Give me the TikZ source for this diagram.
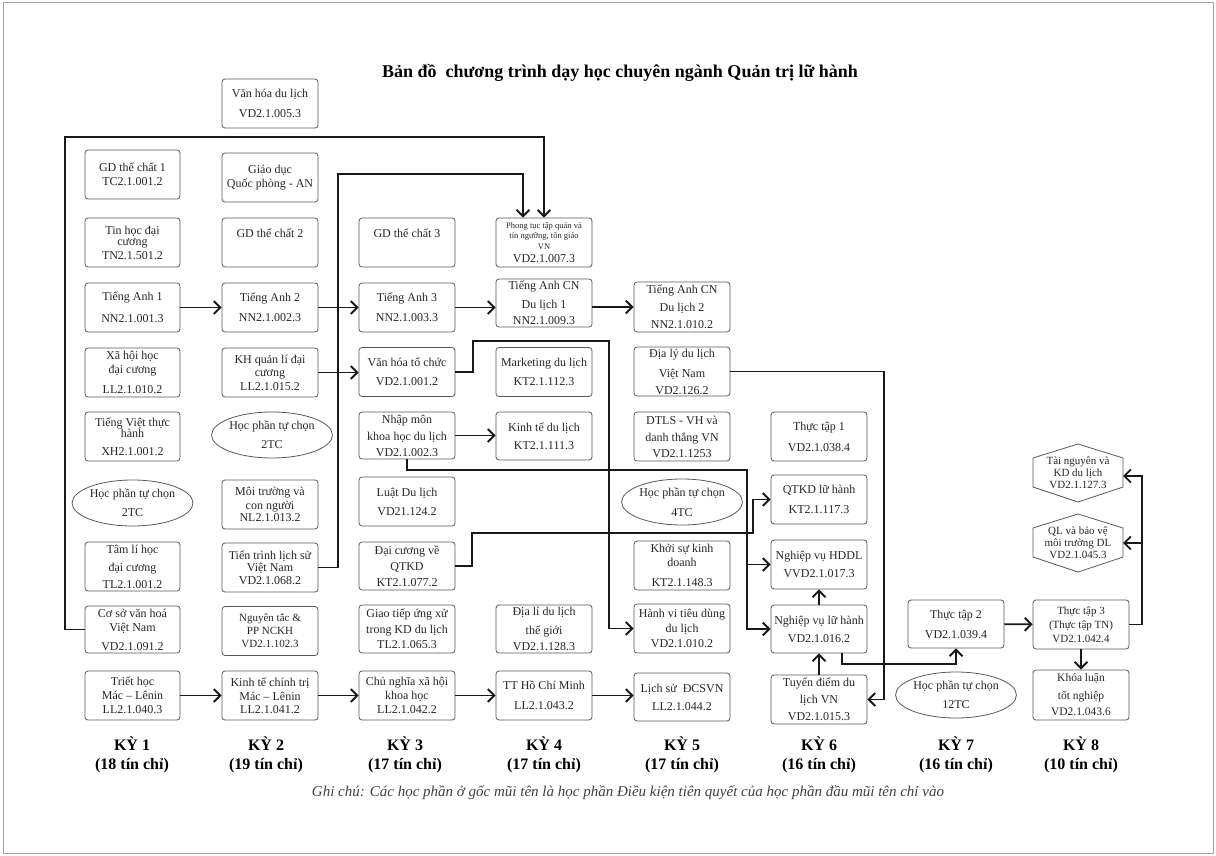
\documentclass[tikz,border=0pt]{standalone}
\usepackage{fontspec}
\setmainfont{Liberation Serif}
\usetikzlibrary{arrows.meta,shapes.geometric,calc}
\begin{document}
\begin{tikzpicture}[x=1pt,y=-1pt,
 box/.style={draw=black!65, line width=0.8pt, rounded corners=3pt, minimum width=96pt, minimum height=49pt, inner sep=1pt, align=center, text=black!85, font=\fontsize{12}{14}\selectfont},
 oval/.style={ellipse, draw=black!65, line width=0.8pt, minimum width=114pt, minimum height=46pt, inner sep=0pt, align=center, text=black!85, font=\fontsize{12}{14}\selectfont},
 hexnode/.style={minimum width=90pt, minimum height=58pt, inner sep=0pt, align=center, text=black!85, font=\fontsize{11}{12}\selectfont},
 hexline/.style={draw=black!65, line width=0.8pt},
 conn/.style={draw=black!90, line width=1.9pt, -{Straight Barb[length=6.5pt,width=13pt]}},
 ky/.style={font=\bfseries\fontsize{16}{19}\selectfont, align=center}]
\useasboundingbox (0,0) rectangle (1216,856);
\draw[black!35, line width=1pt] (3,3) rectangle (1213,853);

\node[font=\bfseries\fontsize{18}{21}\selectfont] (title) at (620,73) {Bản đồ~~chương trình dạy học chuyên ngành Quản trị lữ hành};

% column 1
\node[box, minimum width=95pt] (c1a) at (132.5,174.5) {GD thể chất 1\\TC2.1.001.2};
\node[box, minimum width=95pt] (c1b) at (132.5,242.5) {Tin học đại\\[-3pt]cương\\TN2.1.501.2};
\node[box, minimum width=95pt] (c1c) at (132.5,307.5) {Tiếng Anh 1\\[8pt]NN2.1.001.3};
\node[box, minimum width=95pt] (c1d) at (132.5,372.5) {Xã hội học\\đại cương\\[6pt]LL2.1.010.2};
\node[box, minimum width=95pt] (c1e) at (132.5,436.5) {Tiếng Việt thực\\[-3pt]hành\\[4pt]XH2.1.001.2};
\node[oval] (c1f) at (132.5,503) {Học phần tự chọn\\[5pt]2TC};
\node[box, minimum width=95pt] (c1g) at (132.5,566.5) {Tâm lí học\\[4pt]đại cương\\[3pt]TL2.1.001.2};
\node[box, minimum width=95pt, minimum height=47pt] (c1h) at (132.5,629.5) {Cơ sở văn hoá\\Việt Nam\\[5pt]VD2.1.091.2};
\node[box, minimum width=95pt] (c1i) at (132.5,695.5) {Triết học\\Mác – Lênin\\LL2.1.040.3};

% column 2
\node[box] (c2a) at (270,103.5) {Văn hóa du lịch\\[6pt]VD2.1.005.3};
\node[box] (c2b) at (270,177.5) {Giáo dục\\Quốc phòng - AN};
\node[box] (c2c) at (270,242.5) {GD thể chất 2\\[4pt]\mbox{}};
\node[box] (c2d) at (270,307.5) {Tiếng Anh 2\\[6pt]NN2.1.002.3};
\node[box] (c2e) at (270,372.5) {KH quản lí đại\\[-1pt]cương\\LL2.1.015.2};
\node[oval] (c2f) at (272,435) {Học phần tự chọn\\[5pt]2TC};
\node[box] (c2g) at (270,504.5) {Môi trường và\\con người\\[-2pt]NL2.1.013.2};
\node[box] (c2h) at (270,567.5) {Tiến trình lịch sử\\[-2pt]Việt Nam\\[-1pt]VD2.1.068.2};
\node[box, font=\fontsize{11}{13}\selectfont] (c2i) at (270,631) {Nguyên tắc \&\\PP NCKH\\VD2.1.102.3};
\node[box] (c2j) at (270,695.5) {Kinh tế chính trị\\Mác – Lênin\\[-1pt]LL2.1.041.2};

% column 3
\node[box] (c3a) at (407,242.5) {GD thể chất 3\\[4pt]\mbox{}};
\node[box] (c3b) at (407,307.5) {Tiếng Anh 3\\[6pt]NN2.1.003.3};
\node[box] (c3c) at (407,372) {Văn hóa tổ chức\\[5pt]VD2.1.001.2};
\node[box, minimum height=47pt] (c3d) at (407,435.5) {Nhập môn\\[3pt]khoa học du lịch\\[2pt]VD2.1.002.3};
\node[box] (c3e) at (407,501.5) {Luật Du lịch\\[5pt]VD21.124.2};
\node[box, minimum height=48pt] (c3f) at (407,566) {Đại cương về\\[2pt]QTKD\\[2pt]KT2.1.077.2};
\node[box, minimum height=48pt] (c3g) at (407,629) {Giao tiếp ứng xử\\[2pt]trong KD du lịch\\[1pt]TL2.1.065.3};
\node[box] (c3h) at (407,695.5) {Chủ nghĩa xã hội\\khoa học\\LL2.1.042.2};

% column 4
\node[box] (c4a) at (544,242.5) {\begin{minipage}{94pt}\centering\fontsize{8.5}{10.5}\selectfont Phong tục tập quán và\\tín ngưỡng, tôn giáo\\VN\par\fontsize{12}{13}\selectfont VD2.1.007.3\end{minipage}};
\node[box, minimum height=48pt] (c4b) at (544,303) {Tiếng Anh CN\\[5pt]Du lịch 1\\[2pt]NN2.1.009.3};
\node[box] (c4c) at (544,372) {Marketing du lịch\\[5pt]KT2.1.112.3};
\node[box, minimum height=48pt] (c4d) at (544,436) {Kinh tế du lịch\\[4pt]KT2.1.111.3};
\node[box, minimum height=48pt] (c4e) at (544,629) {Địa lí du lịch\\[5pt]thế giới\\[2pt]VD2.1.128.3};
\node[box] (c4f) at (544,695.5) {TT Hồ Chí Minh\\[6pt]LL2.1.043.2};

% column 5
\node[box, minimum height=50pt] (c5a) at (682,307) {Tiếng Anh CN\\[4pt]Du lịch 2\\[3pt]NN2.1.010.2};
\node[box] (c5b) at (682,371.5) {Địa lý du lịch\\[6pt]Việt Nam\\[3pt]VD2.126.2};
\node[box] (c5c) at (682,436.5) {DTLS - VH và\\[3pt]danh thắng VN\\[2pt]VD2.1.1253};
\node[oval, minimum width=112pt] (c5d) at (682,502) {Học phần tự chọn\\[6pt]4TC};
\node[box] (c5e) at (682,565.5) {Khởi sự kinh\\doanh\\[6pt]KT2.1.148.3};
\node[box] (c5f) at (682,628.5) {Hành vi tiêu dùng\\[1pt]du lịch\\[1pt]VD2.1.010.2};
\node[box, minimum height=48pt] (c5g) at (682,697) {Lịch sử~~ĐCSVN\\[4pt]LL2.1.044.2};

% column 6
\node[box] (c6a) at (819,436.5) {Thực tập 1\\[7pt]VD2.1.038.4};
\node[box] (c6b) at (819,499.5) {QTKD lữ hành\\[6pt]KT2.1.117.3};
\node[box] (c6c) at (819,564.5) {Nghiệp vụ HDDL\\[4pt]VVD2.1.017.3};
\node[box, minimum height=48pt] (c6d) at (819,629) {Nghiệp vụ lữ hành\\[4pt]VD2.1.016.2};
\node[box] (c6e) at (819,699.5) {Tuyến điểm du\\[3pt]lịch VN\\[3pt]VD2.1.015.3};

% column 7
\node[box, minimum height=48pt] (c7a) at (956,624) {Thực tập 2\\[6pt]VD2.1.039.4};
\node[oval] (c7b) at (956,695) {Học phần tự chọn\\[5pt]12TC};

% column 8
\node[hexnode] (c8a) at (1078,473) {Tài nguyên và\\KD du lịch\\VD2.1.127.3};
\draw[hexline] ($(c8a)+(-45,-15)$) -- ($(c8a)+(0,-29)$) -- ($(c8a)+(45,-15)$) -- ($(c8a)+(45,14)$) -- ($(c8a)+(0,29)$) -- ($(c8a)+(-45,14)$) -- cycle;
\node[hexnode] (c8b) at (1078,543) {QL và bảo vệ\\môi trường DL\\VD2.1.045.3};
\draw[hexline] ($(c8b)+(-45,-15)$) -- ($(c8b)+(0,-29)$) -- ($(c8b)+(45,-15)$) -- ($(c8b)+(45,14)$) -- ($(c8b)+(0,29)$) -- ($(c8b)+(-45,14)$) -- cycle;
\coordinate (h1) at ($(c8a)+(45,3)$);
\coordinate (h2) at ($(c8b)+(45,0)$);
\node[box, minimum height=49pt, font=\fontsize{11}{14}\selectfont] (c8c) at (1081,624.5) {Thực tập 3\\(Thực tập TN)\\VD2.1.042.4};
\node[box, minimum height=50pt, font=\fontsize{11.5}{13}\selectfont] (c8d) at (1081,695) {Khóa luận\\[5pt]tốt nghiệp\\[3pt]VD2.1.043.6};

% semester labels
\node[ky] (k1) at (132,755) {KỲ 1\\(18 tín chỉ)};
\node[ky] (k2) at (266,755) {KỲ 2\\(19 tín chỉ)};
\node[ky] (k3) at (405,755) {KỲ 3\\(17 tín chỉ)};
\node[ky] (k4) at (544,755) {KỲ 4\\(17 tín chỉ)};
\node[ky] (k5) at (682,755) {KỲ 5\\(17 tín chỉ)};
\node[ky] (k6) at (819,755) {KỲ 6\\(16 tín chỉ)};
\node[ky] (k7) at (956,755) {KỲ 7\\(16 tín chỉ)};
\node[ky] (k8) at (1081,755) {KỲ 8\\(10 tín chỉ)};

\node[font=\itshape\fontsize{15}{17}\selectfont, text=black!75] (note) at (628,793) {Ghi chú: Các học phần ở gốc mũi tên là học phần Điều kiện tiên quyết của học phần đầu mũi tên chỉ vào};

% connectors
\draw[conn] (c1h.west) -- (65,629.5) -- (65,137) -| (c4a.north);
\draw[conn] (c2h.east) -| (338,174) -| ($(c4a.north)+(-21,0)$);
\draw[conn] (c1c) -- (c2d);
\draw[conn] (c2d) -- (c3b);
\draw[conn] (c3b.east) -- (c3b.east -| c4b.west);
\draw[conn] (c5a.west -| c4b.east) -- (c5a.west);
\draw[conn] (c2e.east) -- (c2e.east -| c3c.west);
\draw[conn] (c3c.east) -| (473,341) -| (609,628.5) -- (c5f.west);
\draw[conn] (c3d.east) -- (c3d.east -| c4d.west);
\draw[conn] (c3d.south) |- (747,470) |- (c6d.west);
\draw[conn] (747,564.5) -- (c6c.west);
\draw[conn] (c3f.east) -| (472,533) -| (753,499.5) -- (c6b.west);
\draw[conn] (c5b.east) -| (884,699.5) -- (c6e.east);
\draw[conn] (c6e) -- (c6d);
\draw[conn] (c6d) -- (c6c);
\draw[conn] ($(c6d.south)+(23,0)$) |- (956,664) -- (c7a.south);
\draw[conn] (c7a) -- (c8c);
\draw[conn] (c8c.east) -| (1142,476) -- (h1);
\draw[conn] (1142,543) -- (h2);
\draw[conn] (c8c) -- (c8d);
\draw[conn] (c1i) -- (c2j);
\draw[conn] (c2j) -- (c3h);
\draw[conn] (c3h) -- (c4f);
\draw[conn] (c4f.east) -- (c4f.east -| c5g.west);
\end{tikzpicture}
\end{document}
